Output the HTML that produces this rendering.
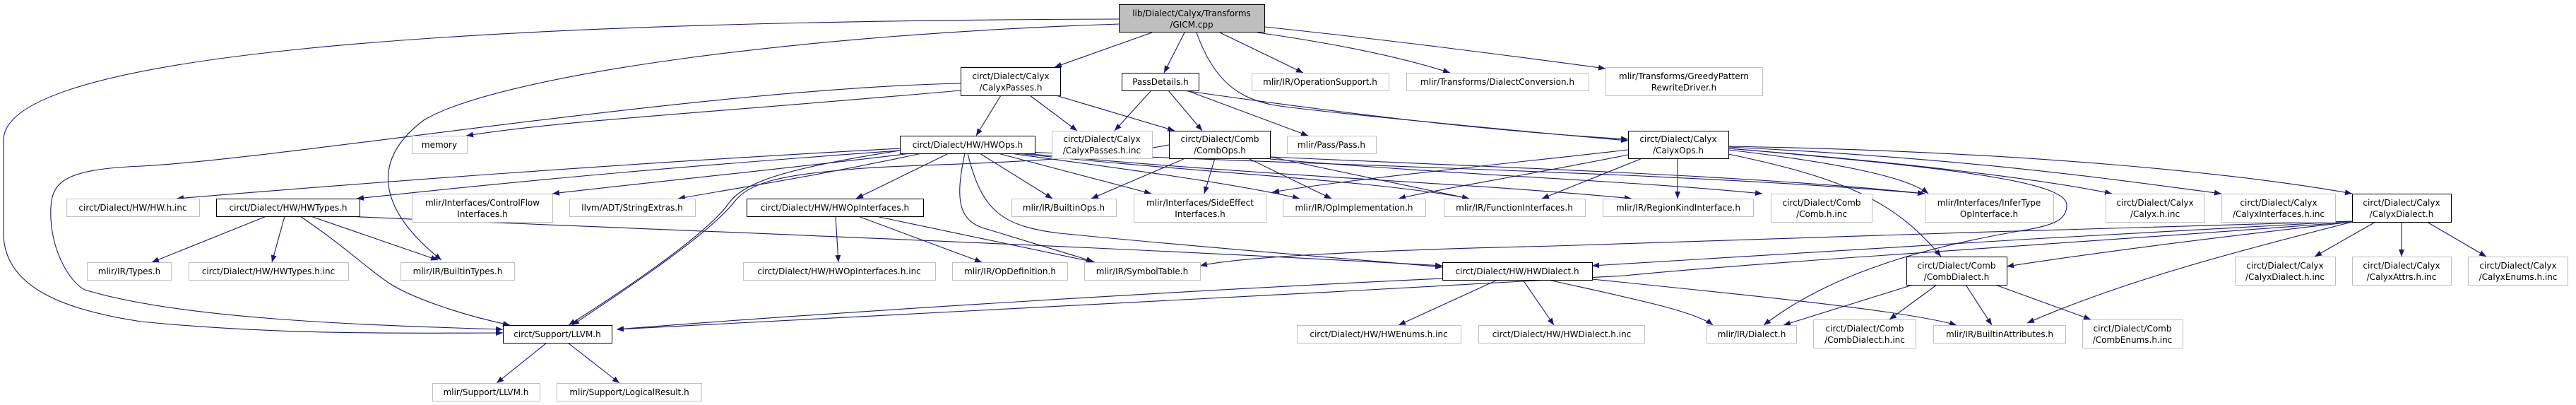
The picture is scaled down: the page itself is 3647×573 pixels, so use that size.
<!DOCTYPE html>
<html><head><meta charset="utf-8"><style>
html,body{margin:0;padding:0;background:#fff;}
svg{display:block;}
text{font-family:"DejaVu Sans","Liberation Sans",sans-serif;font-size:12px;fill:#000;text-anchor:middle;}
.e{fill:none;stroke:#191970;stroke-width:1.1;marker-end:url(#a);}
.g{fill:#fff;stroke:#bfbfbf;stroke-width:1;}
.b{fill:#fff;stroke:#000;stroke-width:1;}
</style></head><body>
<svg width="3647" height="573" viewBox="0 0 3647 573" xmlns="http://www.w3.org/2000/svg">
<defs><marker id="a" markerUnits="userSpaceOnUse" markerWidth="11" markerHeight="8" refX="10" refY="4" orient="auto"><path d="M0,0 L10,4 L0,8 z" fill="#191970"/></marker></defs>

<!-- edges -->
<path class="e" d="M1631 46 L1493 95"/>
<path class="e" d="M1677 46 L1648 103"/>
<path class="e" d="M1694 46 C1720 120 1760 140 1800 148 S2200 190 2305 199"/>
<path class="e" d="M1727 46 L1845 103"/>
<path class="e" d="M1780 46 Q1950 70 2053 103"/>
<path class="e" d="M1790 38 Q2000 60 2273 97"/>
<path class="e" d="M1585 27 C600 30 0 80 5 200 L5 330 C5 410 100 440 200 455 C400 475 600 471 712 471"/>
<path class="e" d="M1585 34 C1100 50 700 110 600 170 C520 230 540 300 625 368"/>

<path class="e" d="M1360 128 C1000 160 800 170 660 192"/>
<path class="e" d="M1360 118 C1000 125 400 225 200 235 C80 240 70 260 72 310 C75 360 100 400 120 410 C250 450 500 460 712 466"/>
<path class="e" d="M1417 135 L1382 192"/>
<path class="e" d="M1458 135 L1525 185"/>
<path class="e" d="M1495 135 L1663 185"/>
<path class="e" d="M1630 128 L1578 185"/>
<path class="e" d="M1654 128 L1702 185"/>
<path class="e" d="M1680 128 L1852 192"/>
<path class="e" d="M1675 128 C1900 160 2100 185 2305 197"/>

<path class="e" d="M1274 210 C900 230 500 260 250 281"/>
<path class="e" d="M1274 213 C900 240 700 260 505 281"/>
<path class="e" d="M1290 217 C1100 240 900 260 782 274"/>
<path class="e" d="M1305 217 C1150 250 1050 265 960 281"/>
<path class="e" d="M1343 217 L1212 281"/>
<path class="e" d="M1387 217 L1490 281"/>
<path class="e" d="M1413 217 L1630 274"/>
<path class="e" d="M1430 217 C1600 240 1750 260 1840 281"/>
<path class="e" d="M1440 217 C1700 245 1950 255 2080 281"/>
<path class="e" d="M1450 217 C1800 250 2100 260 2310 281"/>
<path class="e" d="M1455 215 C1900 235 2400 245 2725 274"/>
<path class="e" d="M1366 217 C1350 290 1360 315 1400 325 L1548 370"/>
<path class="e" d="M1370 217 C1390 300 1420 320 1500 330 C1700 350 1900 365 2042 378"/>
<path class="e" d="M1274 213 C1100 240 1050 260 1030 290 C1000 330 900 400 805 460"/>

<path class="e" d="M377 306 L215 371"/>
<path class="e" d="M403 306 L385 371"/>
<path class="e" d="M440 306 L620 368"/>
<path class="e" d="M425 306 C490 350 520 380 550 400 C580 420 650 445 722 460"/>
<path class="e" d="M490 306 C800 320 1500 345 2042 376"/>

<path class="e" d="M1183 306 L1187 371"/>
<path class="e" d="M1215 306 L1390 371"/>
<path class="e" d="M1240 306 C1350 330 1450 350 1550 371"/>

<path class="e" d="M1678 224 L1545 281"/>
<path class="e" d="M1720 224 L1705 274"/>
<path class="e" d="M1767 224 L1885 281"/>
<path class="e" d="M1798 222 L2080 281"/>
<path class="e" d="M1798 225 C2100 250 2300 255 2495 274"/>
<path class="e" d="M1798 222 C2200 240 2500 250 2725 274"/>
<path class="e" d="M1655 205 C1500 235 1300 230 1200 240 C1100 248 1060 260 1040 285 C1005 330 900 400 810 460"/>

<path class="e" d="M2305 212 C2100 235 1900 255 1801 272"/>
<path class="e" d="M2305 219 C2150 250 2050 265 1980 281"/>
<path class="e" d="M2325 224 L2183 281"/>
<path class="e" d="M2375 224 L2375 281"/>
<path class="e" d="M2447 212 C2600 230 2700 250 2730 274"/>
<path class="e" d="M2447 210 C2700 230 2900 255 2990 274"/>
<path class="e" d="M2447 208 C2800 225 3000 255 3145 274"/>
<path class="e" d="M2447 207 C2900 215 3200 250 3330 274"/>
<path class="e" d="M2447 218 C2600 250 2680 280 2748 363"/>
<path class="e" d="M2447 210 C2800 240 2930 260 2926 292 C2925 310 2910 318 2870 325 C2750 345 2600 380 2497 460"/>

<path class="e" d="M3363 314 L3277 363"/>
<path class="e" d="M3400 314 L3400 363"/>
<path class="e" d="M3436 314 L3520 363"/>
<path class="e" d="M3330 314 C3100 340 2950 360 2841 377"/>
<path class="e" d="M3330 313 C3000 330 2500 360 2254 376"/>
<path class="e" d="M3330 313 C3000 320 2500 340 2200 348 C1900 355 1750 365 1699 376"/>
<path class="e" d="M3330 314 C3000 340 2500 370 2300 390 C1800 420 1200 445 873 466"/>
<path class="e" d="M3330 314 C3150 360 3000 400 2870 457"/>

<path class="e" d="M2120 396 L1980 460"/>
<path class="e" d="M2156 396 L2200 460"/>
<path class="e" d="M2192 396 C2300 420 2400 440 2425 460"/>
<path class="e" d="M2254 395 C2500 420 2700 440 2770 460"/>
<path class="e" d="M2042 394 C1700 410 1200 440 873 466"/>

<path class="e" d="M2708 403 L2525 460"/>
<path class="e" d="M2742 403 L2675 452"/>
<path class="e" d="M2783 403 L2820 460"/>
<path class="e" d="M2825 403 L2960 452"/>

<path class="e" d="M774 485 L703 542"/>
<path class="e" d="M804 485 L877 542"/>

<!-- nodes -->
<rect x="1584.5" y="6.5" width="206" height="39" fill="#bfbfbf" stroke="#000"/>
<text x="1687" y="23">lib/Dialect/Calyx/Transforms</text><text x="1687" y="39">/GICM.cpp</text>

<rect class="b" x="1360.5" y="95.5" width="141" height="40"/><text x="1431" y="112">circt/Dialect/Calyx</text><text x="1431" y="128">/CalyxPasses.h</text>
<rect class="b" x="1588.5" y="103.5" width="109" height="25"/><text x="1643" y="120">PassDetails.h</text>
<rect class="g" x="1772.5" y="103.5" width="194" height="25"/><text x="1869" y="120">mlir/IR/OperationSupport.h</text>
<rect class="g" x="1991.5" y="103.5" width="258" height="25"/><text x="2120" y="120">mlir/Transforms/DialectConversion.h</text>
<rect class="g" x="2273.5" y="95.5" width="222" height="40"/><text x="2384" y="112">mlir/Transforms/GreedyPattern</text><text x="2384" y="128">RewriteDriver.h</text>

<rect class="g" x="583.5" y="192.5" width="78" height="25"/><text x="622" y="209">memory</text>
<rect class="b" x="1274.5" y="192.5" width="191" height="25"/><text x="1370" y="209">circt/Dialect/HW/HWOps.h</text>
<rect class="g" x="1489.5" y="185.5" width="142" height="39"/><text x="1560" y="201">circt/Dialect/Calyx</text><text x="1560" y="217">/CalyxPasses.h.inc</text>
<rect class="b" x="1655.5" y="185.5" width="143" height="39"/><text x="1727" y="201">circt/Dialect/Comb</text><text x="1727" y="217">/CombOps.h</text>
<rect class="g" x="1822.5" y="192.5" width="126" height="25"/><text x="1885" y="209">mlir/Pass/Pass.h</text>
<rect class="b" x="2305.5" y="185.5" width="142" height="39"/><text x="2376" y="201">circt/Dialect/Calyx</text><text x="2376" y="217">/CalyxOps.h</text>

<rect class="g" x="94.5" y="281.5" width="188" height="25"/><text x="188" y="298">circt/Dialect/HW/HW.h.inc</text>
<rect class="b" x="306.5" y="281.5" width="203" height="25"/><text x="408" y="298">circt/Dialect/HW/HWTypes.h</text>
<rect class="g" x="583.5" y="274.5" width="199" height="40"/><text x="683" y="291">mlir/Interfaces/ControlFlow</text><text x="683" y="307">Interfaces.h</text>
<rect class="g" x="806.5" y="281.5" width="178" height="25"/><text x="895" y="298">llvm/ADT/StringExtras.h</text>
<rect class="b" x="1057.5" y="281.5" width="250" height="25"/><text x="1182" y="298">circt/Dialect/HW/HWOpInterfaces.h</text>
<rect class="g" x="1432.5" y="281.5" width="148" height="25"/><text x="1506" y="298">mlir/IR/BuiltinOps.h</text>
<rect class="g" x="1605.5" y="274.5" width="187" height="40"/><text x="1699" y="291">mlir/Interfaces/SideEffect</text><text x="1699" y="307">Interfaces.h</text>
<rect class="g" x="1816.5" y="281.5" width="202" height="25"/><text x="1917" y="298">mlir/IR/OpImplementation.h</text>
<rect class="g" x="2044.5" y="281.5" width="200" height="25"/><text x="2144" y="298">mlir/IR/FunctionInterfaces.h</text>
<rect class="g" x="2269.5" y="281.5" width="213" height="25"/><text x="2376" y="298">mlir/IR/RegionKindInterface.h</text>
<rect class="g" x="2507.5" y="274.5" width="143" height="40"/><text x="2579" y="291">circt/Dialect/Comb</text><text x="2579" y="307">/Comb.h.inc</text>
<rect class="g" x="2725.5" y="274.5" width="182" height="40"/><text x="2816" y="291">mlir/Interfaces/InferType</text><text x="2816" y="307">OpInterface.h</text>
<rect class="g" x="2981.5" y="274.5" width="140" height="40"/><text x="3051" y="291">circt/Dialect/Calyx</text><text x="3051" y="307">/Calyx.h.inc</text>
<rect class="g" x="3145.5" y="274.5" width="161" height="40"/><text x="3226" y="291">circt/Dialect/Calyx</text><text x="3226" y="307">/CalyxInterfaces.h.inc</text>
<rect class="b" x="3330.5" y="274.5" width="140" height="40"/><text x="3400" y="291">circt/Dialect/Calyx</text><text x="3400" y="307">/CalyxDialect.h</text>

<rect class="g" x="123.5" y="371.5" width="119" height="25"/><text x="183" y="388">mlir/IR/Types.h</text>
<rect class="g" x="267.5" y="371.5" width="226" height="25"/><text x="380" y="388">circt/Dialect/HW/HWTypes.h.inc</text>
<rect class="g" x="567.5" y="371.5" width="161" height="25"/><text x="648" y="388">mlir/IR/BuiltinTypes.h</text>
<rect class="g" x="1052.5" y="371.5" width="272" height="25"/><text x="1188" y="388">circt/Dialect/HW/HWOpInterfaces.h.inc</text>
<rect class="g" x="1348.5" y="371.5" width="163" height="25"/><text x="1430" y="388">mlir/IR/OpDefinition.h</text>
<rect class="g" x="1535.5" y="371.5" width="164" height="25"/><text x="1617" y="388">mlir/IR/SymbolTable.h</text>
<rect class="b" x="2042.5" y="371.5" width="212" height="25"/><text x="2148" y="388">circt/Dialect/HW/HWDialect.h</text>
<rect class="b" x="2699.5" y="363.5" width="142" height="40"/><text x="2770" y="380">circt/Dialect/Comb</text><text x="2770" y="396">/CombDialect.h</text>
<rect class="g" x="3164.5" y="363.5" width="142" height="40"/><text x="3235" y="380">circt/Dialect/Calyx</text><text x="3235" y="396">/CalyxDialect.h.inc</text>
<rect class="g" x="3330.5" y="363.5" width="140" height="40"/><text x="3400" y="380">circt/Dialect/Calyx</text><text x="3400" y="396">/CalyxAttrs.h.inc</text>
<rect class="g" x="3494.5" y="363.5" width="141" height="40"/><text x="3565" y="380">circt/Dialect/Calyx</text><text x="3565" y="396">/CalyxEnums.h.inc</text>

<rect class="b" x="712.5" y="460.5" width="154" height="25"/><text x="789" y="477">circt/Support/LLVM.h</text>
<rect class="g" x="1836.5" y="460.5" width="232" height="25"/><text x="1952" y="477">circt/Dialect/HW/HWEnums.h.inc</text>
<rect class="g" x="2093.5" y="460.5" width="235" height="25"/><text x="2211" y="477">circt/Dialect/HW/HWDialect.h.inc</text>
<rect class="g" x="2416.5" y="460.5" width="127" height="25"/><text x="2480" y="477">mlir/IR/Dialect.h</text>
<rect class="g" x="2567.5" y="452.5" width="145" height="40"/><text x="2640" y="469">circt/Dialect/Comb</text><text x="2640" y="485">/CombDialect.h.inc</text>
<rect class="g" x="2737.5" y="460.5" width="187" height="25"/><text x="2831" y="477">mlir/IR/BuiltinAttributes.h</text>
<rect class="g" x="2948.5" y="452.5" width="142" height="40"/><text x="3019" y="469">circt/Dialect/Comb</text><text x="3019" y="485">/CombEnums.h.inc</text>

<rect class="g" x="612.5" y="542.5" width="152" height="25"/><text x="688" y="559">mlir/Support/LLVM.h</text>
<rect class="g" x="788.5" y="542.5" width="205" height="25"/><text x="891" y="559">mlir/Support/LogicalResult.h</text>
</svg>
</body></html>
